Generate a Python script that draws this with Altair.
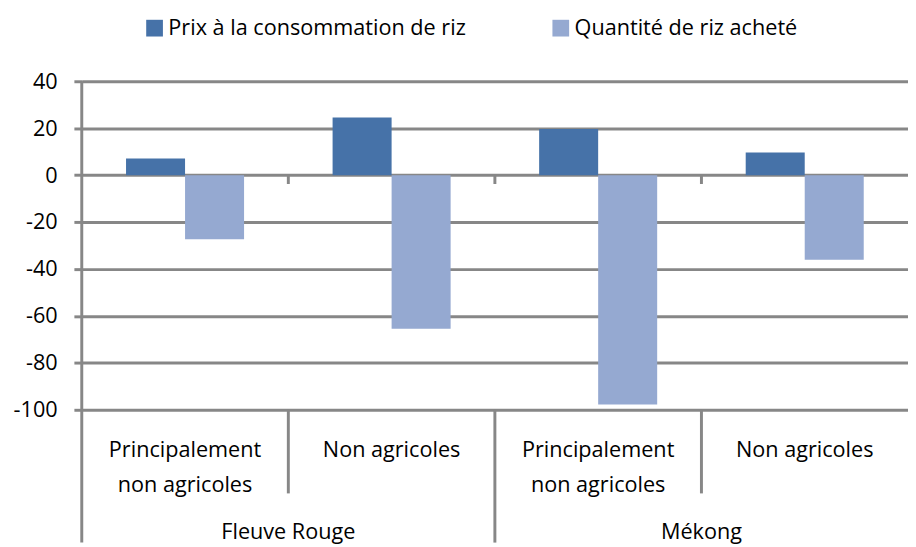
import altair as alt
import pandas as pd

# ---- data ----
groups = ["Fleuve Rouge", "Fleuve Rouge", "Mékong", "Mékong"]
subgroups = ["Principalement non agricoles", "Non agricoles",
             "Principalement non agricoles", "Non agricoles"]
series = ["Prix à la consommation de riz", "Quantité de riz acheté"]
prix = [7.1, 24.6, 19.7, 9.6]
quantite = [-27.3, -65.5, -97.7, -36.1]
y_ticks = [-100, -80, -60, -40, -20, 0, 20, 40]
colors = ["#4672A8", "#95A9D1"]

keys = [f"{g}|{s}" for g, s in zip(groups, subgroups)]

rows = []
for k, p, q in zip(keys, prix, quantite):
    rows.append({"key": k, "serie": series[0], "val": p})
    rows.append({"key": k, "serie": series[1], "val": q})
df = pd.DataFrame(rows)

# category boundaries (left edge of categories 2..4)
bounds = pd.DataFrame({"key": keys[1:], "kind": ["short", "long", "short"]})
# group labels centered on the boundary between their two sub-categories
group_lab = pd.DataFrame({"key": [keys[1], keys[3]], "label": [groups[0], groups[2]]})

W, H = 840, 334
BOTTOM = 135
GRID = "#878787"
FONT = "Open Sans, sans-serif"
FS = 22

xscale = alt.Scale(domain=keys, paddingInner=0, paddingOuter=0)

label_expr = ("indexof(datum.label, 'Principalement') >= 0 ? "
              "['Principalement', 'non agricoles'] : split(datum.label, '|')[1]")

bars = alt.Chart(df).mark_bar().encode(
    x=alt.X("key:N", scale=xscale, sort=keys, title=None,
            axis=alt.Axis(labelExpr=label_expr, labelAngle=0, domain=False,
                          ticks=False, tickSize=0, grid=False, labelPadding=30,
                          labelFontSize=FS, labelLineHeight=36, labelColor="black",
                          labelBaseline="top", labelFont=FONT, labelLimit=0)),
    xOffset=alt.XOffset("serie:N", sort=series,
                        scale=alt.Scale(domain=series, paddingInner=0, paddingOuter=0.75)),
    y=alt.Y("val:Q", scale=alt.Scale(domain=[-100, 40], nice=False, zero=False), title=None,
            axis=alt.Axis(values=y_ticks, domain=False, grid=True, gridColor=GRID,
                          gridWidth=3, gridOpacity=1, tickColor=GRID, tickWidth=3,
                          tickSize=8, labelPadding=17, labelFontSize=FS,
                          labelExpr="'' + datum.value",
                          labelColor="black", labelFont=FONT)),
    color=alt.Color("serie:N", sort=series,
                    scale=alt.Scale(domain=series, range=colors),
                    legend=alt.Legend(title=None, orient="none", legendX=63, legendY=-65,
                                      direction="horizontal", symbolType="square",
                                      symbolSize=289, symbolStrokeWidth=0,
                                      symbolOpacity=1, labelFontSize=FS,
                                      labelFont=FONT, labelColor="black", labelLimit=0,
                                      labelOffset=3, columnPadding=85)),
)

zero_ticks = alt.Chart(bounds).mark_rule(color=GRID, strokeWidth=3, y2Offset=9).encode(
    x=alt.X("key:N", scale=xscale, bandPosition=0),
    y=alt.datum(0),
    y2=alt.datum(0),
)

short_sep = alt.Chart(bounds).transform_filter("datum.kind == 'short'").mark_rule(
    color=GRID, strokeWidth=3).encode(
    x=alt.X("key:N", scale=xscale, bandPosition=0),
    y=alt.value(H),
    y2=alt.value(H + 85),
)

long_sep = alt.Chart(bounds).transform_filter("datum.kind == 'long'").mark_rule(
    color=GRID, strokeWidth=3).encode(
    x=alt.X("key:N", scale=xscale, bandPosition=0),
    y=alt.value(H),
    y2=alt.value(H + BOTTOM),
)

left_axis = alt.Chart(bounds).transform_filter("datum.kind == 'long'").mark_rule(
    color=GRID, strokeWidth=3).encode(
    x=alt.value(0),
    y=alt.value(0),
    y2=alt.value(H + BOTTOM),
)

group_text = alt.Chart(group_lab).mark_text(
    fontSize=FS, font=FONT, color="black", baseline="middle", align="center").encode(
    x=alt.X("key:N", scale=xscale, bandPosition=0),
    y=alt.value(H + 124),
    text="label:N",
)

chart = alt.layer(bars, zero_ticks, short_sep, long_sep, left_axis, group_text).properties(
    width=W, height=H,
    autosize=alt.AutoSizeParams(type="none"),
    padding={"left": 75, "top": 70, "right": 0, "bottom": BOTTOM},
).configure_view(stroke=None).configure(font=FONT, background="white")

chart.save("out.html", embed_options={"renderer": "svg", "actions": False})
